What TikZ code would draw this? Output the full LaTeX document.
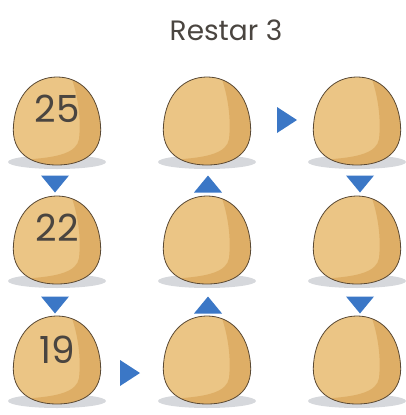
\documentclass[tikz,border=0pt]{standalone}
\usepackage{fontspec}
\setmainfont{Poppins}
\usetikzlibrary{calc}

\definecolor{eggFill}{HTML}{EBC585}
\definecolor{eggShade}{HTML}{DEAE66}
\definecolor{eggLine}{HTML}{5A4934}
\definecolor{markBlue}{HTML}{3B77C6}
\definecolor{shadowGray}{HTML}{D6D8DC}
\definecolor{numGray}{HTML}{4A4540}

\def\eggoutline{(0,-44) .. controls (23,-44) and (41,-27) .. (43.5,4)
  .. controls (46,32) and (26,44) .. (0,44)
  .. controls (-26,44) and (-46,32) .. (-43.5,4)
  .. controls (-41,-27) and (-23,-44) .. (0,-44) -- cycle}

\tikzset{
  eggnum/.style={font=\fontsize{28}{28}\selectfont, text=numGray, inner sep=0pt},
  pics/egg/.style={code={
    \fill[shadowGray] (0,41) ellipse (49 and 7);
    \fill[eggFill] \eggoutline;
    \begin{scope}
      \clip \eggoutline;
      \fill[eggShade] (12,-50) .. controls (22,-25) and (24,0) .. (22,18)
        .. controls (20,32) and (0,36) .. (-24,38) -- (-50,50) -- (50,50) -- (50,-50) -- cycle;
    \end{scope}
    \draw[eggLine, line width=0.6pt] \eggoutline;
  }},
  pics/markdown/.style={code={\fill[markBlue] (-14,-8.5) -- (14,-8.5) -- (0,8.5) -- cycle;}},
  pics/markup/.style={code={\fill[markBlue] (-14,8.5) -- (14,8.5) -- (0,-8.5) -- cycle;}},
  pics/markright/.style={code={\fill[markBlue] (-10,-13) -- (10,0) -- (-10,13) -- cycle;}}
}

\begin{document}
\begin{tikzpicture}[x=0.75pt, y=-0.75pt]
    \useasboundingbox (0,0) rectangle (405,415);

    % Title
    \node[font=\fontsize{21}{21}\selectfont, text=numGray] (title) at (226,30) {Restar 3};

    % Eggs, column c, row r
    \foreach \c/\x in {1/57, 2/207, 3/357} {
        \foreach \r/\y in {1/121, 2/240, 3/360} {
            \coordinate (e\c\r) at (\x,\y);
            \pic at (e\c\r) {egg};
        }
    }

    % Numbers
    \node[eggnum] (n25) at ($(e11)+(0,-12)$) {25};
    \node[eggnum] (n22) at ($(e12)+(0,-12)$) {22};
    \node[eggnum] (n19) at ($(e13)+(0,-10)$) {19};

    % Markers between the eggs
    \pic at ($(e12)+(-2,-56)$) {markdown};
    \pic at ($(e13)+(-2,-55)$) {markdown};
    \pic at ($(e22)+(1,-56)$) {markup};
    \pic at ($(e23)+(1,-55)$) {markup};
    \pic at ($(e32)+(3,-56)$) {markdown};
    \pic at ($(e33)+(3,-55)$) {markdown};
    \pic at ($(e21)!0.5!(e31)+(5,-1)$) {markright};
    \pic at ($(e13)!0.5!(e23)+(-2,13)$) {markright};
\end{tikzpicture}
\end{document}
